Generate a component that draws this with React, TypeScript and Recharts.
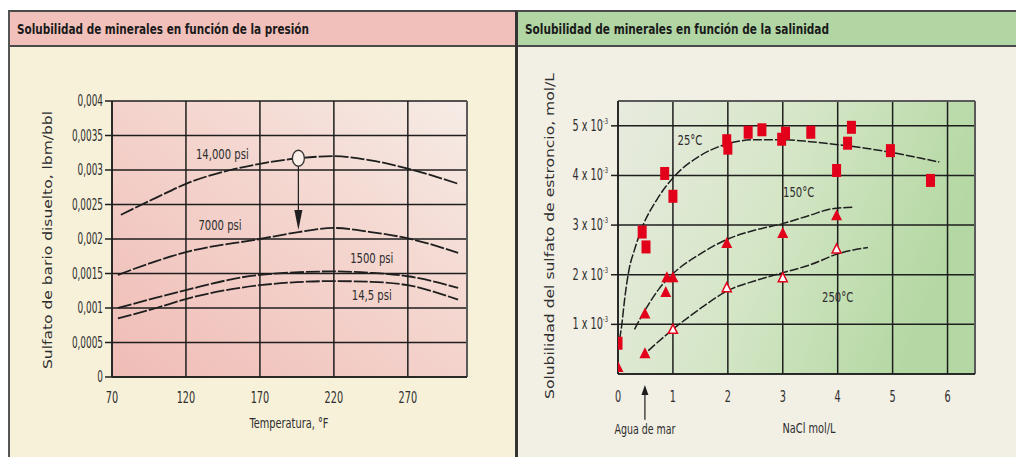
import { LineChart, ComposedChart, Line, Scatter, XAxis, YAxis, CartesianGrid, ReferenceLine, ReferenceDot } from 'recharts';

// Panel 1: barium sulfate solubility vs temperature at several pressures
const tempTicks = [70, 120, 170, 220, 270];
const bariumTicks = [0, 0.0005, 0.001, 0.0015, 0.002, 0.0025, 0.003, 0.0035, 0.004];

const psi14000 = [
  { t: 76, s: 0.00235 }, { t: 100, s: 0.0026 }, { t: 120, s: 0.0028 }, { t: 150, s: 0.003 },
  { t: 170, s: 0.00309 }, { t: 196, s: 0.00317 }, { t: 220, s: 0.0032 }, { t: 245, s: 0.00314 },
  { t: 270, s: 0.00302 }, { t: 304, s: 0.0028 },
];
const psi7000 = [
  { t: 74, s: 0.00148 }, { t: 100, s: 0.00168 }, { t: 120, s: 0.00181 }, { t: 170, s: 0.002 },
  { t: 196, s: 0.0021 }, { t: 220, s: 0.00216 }, { t: 245, s: 0.0021 }, { t: 270, s: 0.00201 },
  { t: 304, s: 0.0018 },
];
const psi1500 = [
  { t: 74, s: 0.001 }, { t: 100, s: 0.00115 }, { t: 120, s: 0.00126 }, { t: 170, s: 0.00148 },
  { t: 220, s: 0.00153 }, { t: 245, s: 0.00151 }, { t: 270, s: 0.00146 }, { t: 304, s: 0.00129 },
];
const psi14_5 = [
  { t: 74, s: 0.00085 }, { t: 100, s: 0.001 }, { t: 120, s: 0.00113 }, { t: 170, s: 0.00133 },
  { t: 220, s: 0.00139 }, { t: 245, s: 0.00138 }, { t: 270, s: 0.00133 }, { t: 304, s: 0.00112 },
];

// Panel 2: strontium sulfate solubility vs NaCl concentration
const naclTicks = [0, 1, 2, 3, 4, 5, 6];
const strontiumTicks = [1, 2, 3, 4, 5];

const meas25 = [
  { x: 0, y: 0.62 }, { x: 0.44, y: 2.86 }, { x: 0.51, y: 2.56 }, { x: 0.85, y: 4.04 },
  { x: 1.0, y: 3.58 }, { x: 1.98, y: 4.7 }, { x: 2.0, y: 4.55 }, { x: 2.37, y: 4.87 },
  { x: 2.62, y: 4.92 }, { x: 2.98, y: 4.73 }, { x: 3.05, y: 4.85 }, { x: 3.51, y: 4.87 },
  { x: 3.98, y: 4.1 }, { x: 4.18, y: 4.65 }, { x: 4.25, y: 4.97 }, { x: 4.96, y: 4.5 },
  { x: 5.69, y: 3.9 },
];
const meas150 = [
  { x: 0, y: 0.14 }, { x: 0.49, y: 1.22 }, { x: 0.87, y: 1.65 }, { x: 0.89, y: 1.95 },
  { x: 1.0, y: 1.95 }, { x: 1.98, y: 2.64 }, { x: 3.0, y: 2.84 }, { x: 3.98, y: 3.2 },
];
const meas250Sea = [{ x: 0.49, y: 0.42 }];
const meas250 = [
  { x: 1.0, y: 0.9 }, { x: 1.98, y: 1.74 }, { x: 3.0, y: 1.94 }, { x: 3.98, y: 2.52 },
];

const fit25 = [
  { x: 0.03, y: 0.7 }, { x: 0.07, y: 1.0 }, { x: 0.12, y: 1.5 }, { x: 0.2, y: 2.1 },
  { x: 0.3, y: 2.5 }, { x: 0.45, y: 2.98 }, { x: 0.7, y: 3.5 }, { x: 1.0, y: 3.95 },
  { x: 1.5, y: 4.4 }, { x: 2.0, y: 4.64 }, { x: 2.5, y: 4.72 }, { x: 3.0, y: 4.72 },
  { x: 3.5, y: 4.68 }, { x: 4.0, y: 4.62 }, { x: 4.5, y: 4.55 }, { x: 5.0, y: 4.46 },
  { x: 5.5, y: 4.35 }, { x: 5.85, y: 4.27 },
];
const fit150 = [
  { x: 0.3, y: 0.9 }, { x: 0.5, y: 1.3 }, { x: 0.75, y: 1.72 }, { x: 1.0, y: 2.02 },
  { x: 1.5, y: 2.42 }, { x: 2.0, y: 2.72 }, { x: 2.5, y: 2.9 }, { x: 3.0, y: 3.03 },
  { x: 3.5, y: 3.2 }, { x: 3.9, y: 3.33 }, { x: 4.3, y: 3.36 },
];
const fit250 = [
  { x: 0.55, y: 0.47 }, { x: 1.0, y: 0.9 }, { x: 1.5, y: 1.32 }, { x: 2.0, y: 1.68 },
  { x: 2.5, y: 1.88 }, { x: 3.0, y: 2.04 }, { x: 3.5, y: 2.2 }, { x: 4.0, y: 2.42 },
  { x: 4.55, y: 2.55 },
];

const COND = '"DejaVu Sans Condensed", "DejaVu Sans", sans-serif';
const TEXT = '#2e2e2e';
const RED = '#e2001a';
const INK = '#1e1e1e';

const commaFmt = (v: number) => (v === 0 ? '0' : String(v).replace('.', ','));

// condensed text: squeezed horizontally around its anchor point
const NText = ({ x, y, anchor = 'middle', size = 13, sx = 0.8, children }: any) => (
  <g transform={`translate(${x},${y}) scale(${sx},1)`}>
    <text x={0} y={0} textAnchor={anchor} dominantBaseline="central" fontFamily={COND} fontSize={size} fill={TEXT}>
      {children}
    </text>
  </g>
);

const note = (text: string, size = 13, sx = 0.8) => (p: any) => (
  <NText x={p.cx} y={p.cy} size={size} sx={sx}>{text}</NText>
);

const XTick = (p: any) => <NText x={p.x} y={p.y + 5} size={15} sx={0.72}>{p.payload.value}</NText>;
const CommaTick = (p: any) => (
  <NText x={p.x} y={p.y} anchor="end" size={15} sx={0.66}>{commaFmt(p.payload.value)}</NText>
);
const SciTick = (p: any) => (
  <g transform={`translate(${p.x},${p.y}) scale(0.72,1)`}>
    <text x={0} y={0} dy={5} textAnchor="end" fontFamily={COND} fontSize={15} fill={TEXT}>
      {p.payload.value} x 10
      <tspan dy={-7} fontSize={8}>-3</tspan>
    </text>
  </g>
);

const Square = (p: any) => <rect x={p.cx - 4.5} y={p.cy - 6.5} width={9} height={13} fill={RED} />;
const Tri = (p: any) => (
  <polygon points={`${p.cx},${p.cy - 6} ${p.cx + 5.5},${p.cy + 5} ${p.cx - 5.5},${p.cy + 5}`} fill={RED} />
);
const HollowTri = (p: any) => (
  <polygon points={`${p.cx},${p.cy - 5} ${p.cx + 4.5},${p.cy + 4} ${p.cx - 4.5},${p.cy + 4}`} fill="#fff" stroke={RED} strokeWidth={1.5} />
);

const Header = ({ bg, title, width }: { bg: string; title: string; width: number }) => (
  <div style={{ position: 'absolute', top: 0, left: 0, right: 0, height: 33, background: bg, borderBottom: '2px solid #4a4a4a' }}>
    <svg width={490} height={33} style={{ display: 'block' }}>
      <text
        x={7}
        y={17}
        dominantBaseline="central"
        fontFamily={COND}
        fontWeight="bold"
        fontSize={14}
        fill="#1a1a1a"
        textLength={width}
        lengthAdjust="spacingAndGlyphs"
      >
        {title}
      </text>
    </svg>
  </div>
);

const curveProps = { type: 'monotone' as const, dot: false, stroke: INK, strokeWidth: 1.8, strokeDasharray: '14 2', isAnimationActive: false };

const PressureChart = () => (
  <LineChart width={517} height={457} margin={{ top: 101, right: 50, bottom: 50, left: 62 }}>
    <defs>
      <linearGradient id="pinkBg" x1="0" y1="1" x2="1" y2="0">
        <stop offset="0%" stopColor="#f0bcb6" />
        <stop offset="60%" stopColor="#f4d7d0" />
        <stop offset="100%" stopColor="#f6ece6" />
      </linearGradient>
    </defs>
    <CartesianGrid fill="url(#pinkBg)" fillOpacity={1} stroke={INK} strokeWidth={1.5} />
    <XAxis
      type="number"
      dataKey="t"
      domain={[70, 310]}
      ticks={tempTicks}
      allowDataOverflow
      height={30}
      tickLine={false}
      tickMargin={10}
      axisLine={{ stroke: INK, strokeWidth: 1.5 }}
      tick={<XTick />}
      label={() => <NText x={289} y={423} size={14} sx={0.78}>Temperatura, °F</NText>}
    />
    <YAxis
      type="number"
      domain={[0, 0.004]}
      ticks={bariumTicks}
      width={50}
      tickSize={7}
      tickMargin={2}
      tickLine={{ stroke: INK, strokeWidth: 1.5 }}
      axisLine={{ stroke: INK, strokeWidth: 1.5 }}
      tick={<CommaTick />}
      label={() => (
        <text
          x={48}
          y={240}
          transform="rotate(-90 48 240)"
          textAnchor="middle"
          dominantBaseline="central"
          fontFamily={COND}
          fontSize={12}
          fill={TEXT}
          textLength={258}
          lengthAdjust="spacingAndGlyphs"
        >
          Sulfato de bario disuelto, lbm/bbl
        </text>
      )}
    />
    <ReferenceLine x={310} stroke="#5a5a5a" strokeWidth={2} />
    <Line data={psi14000} dataKey="s" {...curveProps} />
    <Line data={psi7000} dataKey="s" {...curveProps} />
    <Line data={psi1500} dataKey="s" {...curveProps} />
    <Line data={psi14_5} dataKey="s" {...curveProps} />
    <ReferenceLine segment={[{ x: 196, y: 0.00306 }, { x: 196, y: 0.0024 }]} stroke={INK} strokeWidth={1.2} />
    <ReferenceDot
      x={196}
      y={0.00213}
      shape={(p: any) => <polygon points={`${p.cx - 4},${p.cy - 20} ${p.cx + 4},${p.cy - 20} ${p.cx},${p.cy}`} fill={INK} />}
    />
    <ReferenceDot
      x={196}
      y={0.00317}
      shape={(p: any) => <ellipse cx={p.cx} cy={p.cy} rx={6} ry={8} fill="#fbefe9" stroke="#333" strokeWidth={1.3} />}
    />
    <ReferenceDot x={144.6} y={0.00323} shape={note('14,000 psi', 14)} />
    <ReferenceDot x={143} y={0.0022} shape={note('7000 psi', 14)} />
    <ReferenceDot x={245.6} y={0.00172} shape={note('1500 psi', 14)} />
    <ReferenceDot x={245.6} y={0.00119} shape={note('14,5 psi', 14)} />
  </LineChart>
);

const SalinityChart = () => (
  <ComposedChart width={499} height={457} margin={{ top: 101, right: 41, bottom: 53, left: 56 }}>
    <defs>
      <linearGradient id="greenBg" x1="0" y1="0" x2="1" y2="0.3">
        <stop offset="0%" stopColor="#e8ebdf" />
        <stop offset="50%" stopColor="#d5e6c7" />
        <stop offset="100%" stopColor="#b4d8a3" />
      </linearGradient>
    </defs>
    <CartesianGrid fill="url(#greenBg)" fillOpacity={1} stroke={INK} strokeWidth={1.5} />
    <XAxis
      type="number"
      dataKey="x"
      domain={[0, 6.5]}
      ticks={naclTicks}
      allowDataOverflow
      height={30}
      tickLine={false}
      tickMargin={12}
      axisLine={{ stroke: INK, strokeWidth: 1.5 }}
      tick={<XTick />}
      label={() => <NText x={292} y={428} size={14} sx={0.78}>NaCl mol/L</NText>}
    />
    <YAxis
      type="number"
      dataKey="y"
      domain={[0, 5.5]}
      ticks={strontiumTicks}
      width={45}
      tickSize={7}
      tickMargin={3}
      tickLine={{ stroke: INK, strokeWidth: 1.5 }}
      axisLine={{ stroke: INK, strokeWidth: 1.5 }}
      tick={<SciTick />}
      label={() => (
        <text
          x={33}
          y={236}
          transform="rotate(-90 33 236)"
          textAnchor="middle"
          dominantBaseline="central"
          fontFamily={COND}
          fontSize={12}
          fill={TEXT}
          textLength={326}
          lengthAdjust="spacingAndGlyphs"
        >
          Solubilidad del sulfato de estroncio, mol/L
        </text>
      )}
    />
    <ReferenceLine x={6.5} stroke="#5a5a5a" strokeWidth={2} />
    <ReferenceLine y={5.5} stroke="#5a5a5a" strokeWidth={2} />
    <Line data={fit25} dataKey="y" {...curveProps} strokeWidth={1.5} strokeDasharray="9 2" />
    <Line data={fit150} dataKey="y" {...curveProps} strokeWidth={1.5} strokeDasharray="9 2" />
    <Line data={fit250} dataKey="y" {...curveProps} strokeWidth={1.5} strokeDasharray="9 2" />
    <Scatter data={meas25} dataKey="y" shape={Square} isAnimationActive={false} />
    <Scatter data={meas150} dataKey="y" shape={Tri} isAnimationActive={false} />
    <Scatter data={meas250Sea} dataKey="y" shape={Tri} isAnimationActive={false} />
    <Scatter data={meas250} dataKey="y" shape={HollowTri} isAnimationActive={false} />
    <ReferenceDot x={1.31} y={4.72} shape={note('25°C', 14, 0.8)} />
    <ReferenceDot x={3.29} y={3.66} shape={note('150°C', 14, 0.8)} />
    <ReferenceDot x={4.0} y={1.56} shape={note('250°C', 14, 0.8)} />
    {/* sea-water marker below the axis */}
    <ReferenceLine segment={[{ x: 0.49, y: -0.38 }, { x: 0.49, y: -0.92 }]} stroke={INK} strokeWidth={1.2} ifOverflow="visible" />
    <ReferenceDot
      x={0.49}
      y={-0.22}
      ifOverflow="visible"
      shape={(p: any) => <polygon points={`${p.cx},${p.cy} ${p.cx + 3.5},${p.cy + 10} ${p.cx - 3.5},${p.cy + 10}`} fill={INK} />}
    />
    <ReferenceDot x={0.49} y={-1.12} ifOverflow="visible" shape={note('Agua de mar', 14, 0.75)} />
  </ComposedChart>
);

export default function App() {
  return (
    <div style={{ position: 'absolute', top: 0, left: 0, width: 1016, height: 457, background: '#fff', overflow: 'hidden' }}>
      <div style={{ position: 'absolute', left: 8, top: 10, width: 507, height: 447, background: '#f7f1da', borderLeft: '2px solid #555', borderTop: '2px solid #4a4a4a' }}>
        <Header bg="#f1c0ba" title="Solubilidad de minerales en función de la presión" width={292} />
      </div>
      <div style={{ position: 'absolute', left: 515, top: 10, width: 501, height: 447, background: '#f2efe4', borderLeft: '3px solid #333', borderTop: '2px solid #4a4a4a' }}>
        <Header bg="#b1d6a4" title="Solubilidad de minerales en función de la salinidad" width={304} />
      </div>
      <div style={{ position: 'absolute', left: 0, top: 0 }}>
        <PressureChart />
      </div>
      <div style={{ position: 'absolute', left: 517, top: 0 }}>
        <SalinityChart />
      </div>
    </div>
  );
}
